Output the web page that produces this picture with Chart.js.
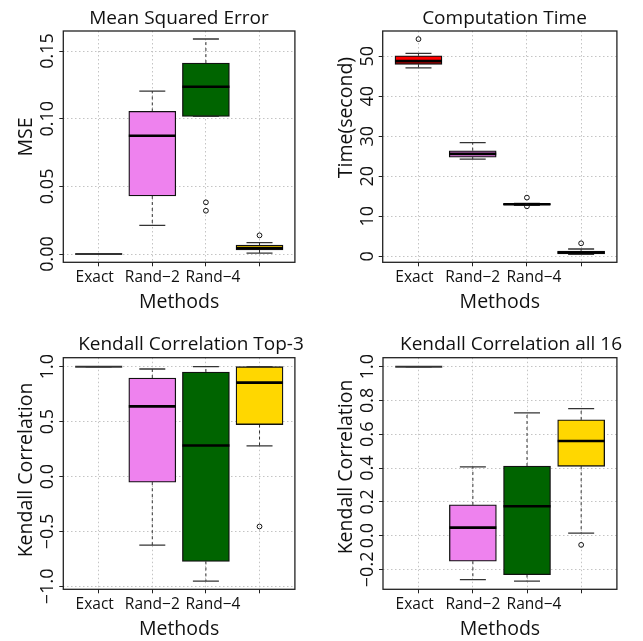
<!DOCTYPE html>
<html>
<head>
<meta charset="utf-8">
<script src="https://cdn.jsdelivr.net/npm/chart.js@4"></script>
<style>
  html, body { margin: 0; padding: 0; background: #fff; }
  #wrap { position: relative; width: 643px; height: 641px; }
  .cell { position: absolute; }
</style>
</head>
<body>
<div id="wrap">
  <div class="cell" style="left:0;top:0"><canvas id="mse" width="321" height="320"></canvas></div>
  <div class="cell" style="left:321px;top:0"><canvas id="time" width="322" height="320"></canvas></div>
  <div class="cell" style="left:0;top:320px"><canvas id="top3" width="321" height="321"></canvas></div>
  <div class="cell" style="left:321px;top:320px"><canvas id="all16" width="322" height="321"></canvas></div>
</div>
<script>
const methods = ["Exact", "Rand\u22122", "Rand\u22124", ""];

// each box: [low whisker, Q1, median, Q3, high whisker]
const mseBoxes = [
  [0, 0, 0, 0, 0],
  [0.0212, 0.0429, 0.0874, 0.1054, 0.1204],
  [0.1017, 0.1017, 0.1236, 0.1411, 0.1589],
  [0.0007, 0.0030, 0.0045, 0.0066, 0.0084]
];
const mseOutliers = [[], [], [0.0382, 0.0320], [0.0138]];
const mseTicks = [0, 0.05, 0.10, 0.15];
const mseTickLabels = ["0.00", "0.05", "0.10", "0.15"];

const timeBoxes = [
  [47.1, 48.0, 48.8, 50.15, 50.75],
  [24.3, 24.8, 25.6, 26.4, 28.4],
  [12.75, 12.85, 13.0, 13.2, 13.25],
  [0.46, 0.58, 0.96, 1.33, 1.83]
];
const timeOutliers = [[54.3], [], [14.67, 12.5], [3.25]];
const timeTicks = [0, 10, 20, 30, 40, 50];
const timeTickLabels = ["0", "10", "20", "30", "40", "50"];

const top3Boxes = [
  [1, 1, 1, 1, 1],
  [-0.624, -0.052, 0.639, 0.897, 0.979],
  [-0.952, -0.773, 0.282, 0.952, 1.0],
  [0.279, 0.473, 0.855, 1.0, 1.0]
];
const top3Outliers = [[], [], [], [-0.455]];
const top3Ticks = [-1, -0.5, 0, 0.5, 1];
const top3TickLabels = ["\u22121.0", "\u22120.5", "0.0", "0.5", "1.0"];

const all16Boxes = [
  [1, 1, 1, 1, 1],
  [-0.261, -0.152, 0.047, 0.182, 0.407],
  [-0.270, -0.231, 0.174, 0.412, 0.726],
  [0.014, 0.410, 0.560, 0.685, 0.752]
];
const all16Outliers = [[], [], [], [-0.055]];
const all16Ticks = [-0.2, 0, 0.2, 0.4, 0.6, 0.8, 1.0];
const all16TickLabels = ["\u22120.2", "0.0", "0.2", "0.4", "0.6", "0.8", "1.0"];

const boxFill = ["#ff0000", "#ee82ee", "#006400", "#ffd700"];
const FONT = '"Open Sans", "Noto Sans", sans-serif';
// the method names sit a little off their tick marks in the original
const labelShift = [-4, 0, 7, 0];

// draws frame, titles and R style tick labels
function rText(o) {
  return {
    id: "rText",
    afterDraw(chart) {
      const {ctx, chartArea: a} = chart;
      const ys = chart.scales.y;
      const xsc = chart.scales.x;
      ctx.save();
      ctx.strokeStyle = "#222";
      ctx.lineWidth = 1.3;
      ctx.strokeRect(a.left, a.top, a.right - a.left, a.bottom - a.top);
      ctx.fillStyle = "#111";
      ctx.textAlign = "center";
      ctx.textBaseline = "alphabetic";
      ctx.font = "19px " + FONT;
      ctx.fillText(o.title, o.titleX, o.titleY);
      ctx.font = "19.5px " + FONT;
      ctx.fillText("Methods", (a.left + a.right) / 2, a.bottom + 46);
      ctx.save();
      ctx.translate(o.yTitleX, o.yTitleY);
      ctx.rotate(-Math.PI / 2);
      ctx.fillText(o.yTitle, 0, 0);
      ctx.restore();
      ctx.font = "15.5px " + FONT;
      xsc.ticks.forEach((t, i) => {
        ctx.fillText(methods[i], xsc.getPixelForValue(t.value) + labelShift[i], a.bottom + 19.4);
      });
      ctx.font = "18px " + FONT;
      ys.ticks.forEach((t, i) => {
        ctx.save();
        ctx.translate(o.tickX, ys.getPixelForValue(t.value));
        ctx.rotate(-Math.PI / 2);
        ctx.fillText(o.tickLabels[i], 0, 0);
        ctx.restore();
      });
      ctx.restore();
    }
  };
}

function boxChart(id, boxes, outliers, ticks, o) {
  const canvas = document.getElementById(id);
  const W = canvas.width, H = canvas.height;
  const xs = methods.map((m, i) => i + 1);

  const boxData = boxes.map((b, i) => ({x: xs[i], y: [b[1], b[3]]}));
  const medData = boxes.map((b, i) => ({x: xs[i], y: b[2]}));
  const capData = [];
  const whiskData = [];
  boxes.forEach((b, i) => {
    capData.push({x: xs[i], y: b[0]}, {x: xs[i], y: b[4]});
    whiskData.push(
      {x: xs[i], y: b[3]}, {x: xs[i], y: b[4]}, {x: xs[i], y: null},
      {x: xs[i], y: b[1]}, {x: xs[i], y: b[0]}, {x: xs[i], y: null}
    );
  });
  const outData = [];
  outliers.forEach((arr, i) => arr.forEach(v => outData.push({x: xs[i], y: v})));

  // a box with no spread shows as a thinner grey line
  const medColor = boxes.map(b => (b[0] === b[4] ? "#333" : "#000"));
  const medWidth = boxes.map(b => (b[0] === b[4] ? 2 : 2.6));

  const grid = {
    color: "#c4c4c4",
    lineWidth: 1,
    drawTicks: true,
    tickLength: 4,
    tickColor: "#222",
    tickWidth: 1,
    tickBorderDash: [],
    offset: false
  };

  return new Chart(canvas, {
    type: "bar",
    data: {
      datasets: [
        {
          type: "line",
          data: whiskData,
          borderColor: "#333",
          borderWidth: 1,
          borderDash: [3, 3],
          pointRadius: 0,
          spanGaps: false,
          order: 5
        },
        {
          type: "bar",
          data: boxData,
          backgroundColor: boxFill,
          borderColor: "#111",
          borderWidth: 1.3,
          borderSkipped: false,
          barThickness: 47,
          order: 4
        },
        {
          type: "scatter",
          data: capData,
          pointStyle: "line",
          pointRadius: 13,
          pointBorderWidth: 1.3,
          pointBorderColor: "#333",
          order: 2
        },
        {
          type: "scatter",
          data: medData,
          pointStyle: "line",
          pointRadius: 23.5,
          pointBorderWidth: medWidth,
          pointBorderColor: medColor,
          order: 1
        },
        {
          type: "scatter",
          data: outData,
          pointStyle: "circle",
          pointRadius: 2.4,
          pointBorderWidth: 1,
          pointBorderColor: "#111",
          pointBackgroundColor: "rgba(255,255,255,0)",
          order: 0
        }
      ]
    },
    options: {
      responsive: false,
      animation: false,
      events: [],
      layout: {padding: {left: 0, top: o.t, right: W - o.r, bottom: 0}},
      plugins: {legend: {display: false}, tooltip: {enabled: false}},
      scales: {
        x: {
          type: "linear",
          min: 0.34,
          max: 4.66,
          offset: false,
          afterBuildTicks: s => { s.ticks = xs.map(v => ({value: v})); },
          afterFit: s => { s.height = H - o.b; },
          ticks: {display: false},
          grid: grid,
          border: {display: false, dash: [1.5, 2.5]}
        },
        y: {
          type: "linear",
          min: o.ymin,
          max: o.ymax,
          afterBuildTicks: s => { s.ticks = ticks.map(v => ({value: v})); },
          afterFit: s => { s.width = o.l; },
          ticks: {display: false},
          grid: grid,
          border: {display: false, dash: [1.5, 2.5]}
        }
      }
    },
    plugins: [rText(o)]
  });
}

function drawAll() {
  boxChart("mse", mseBoxes, mseOutliers, mseTicks, {
    l: 63.3, r: 316, t: 31, b: 262.3, ymin: -0.0061, ymax: 0.1648,
    title: "Mean Squared Error", titleX: 179, titleY: 23.5,
    yTitle: "MSE", yTitleX: 31.5, yTitleY: 137,
    tickX: 53, tickLabels: mseTickLabels
  });
  boxChart("time", timeBoxes, timeOutliers, timeTicks, {
    l: 61.7, r: 315, t: 31, b: 262.3, ymin: -1.5, ymax: 56.33,
    title: "Computation Time", titleX: 183.5, titleY: 23.5,
    yTitle: "Time(second)", yTitleX: 31, yTitleY: 117.6,
    tickX: 52.3, tickLabels: timeTickLabels
  });
  boxChart("top3", top3Boxes, top3Outliers, top3Ticks, {
    l: 63.3, r: 316, t: 37.7, b: 269.3, ymin: -1.027, ymax: 1.082,
    title: "Kendall Correlation Top-3", titleX: 191, titleY: 29.5,
    yTitle: "Kendall Correlation", yTitleX: 31.7, yTitleY: 150,
    tickX: 53, tickLabels: top3TickLabels
  });
  boxChart("all16", all16Boxes, all16Outliers, all16Ticks, {
    l: 62, r: 315, t: 37.7, b: 269.3, ymin: -0.318, ymax: 1.053,
    title: "Kendall Correlation all 16", titleX: 190, titleY: 29.5,
    yTitle: "Kendall Correlation", yTitleX: 31, yTitleY: 147,
    tickX: 52, tickLabels: all16TickLabels
  });
}

document.fonts.load('19px "Open Sans"').then(drawAll, drawAll);
</script>
</body>
</html>
